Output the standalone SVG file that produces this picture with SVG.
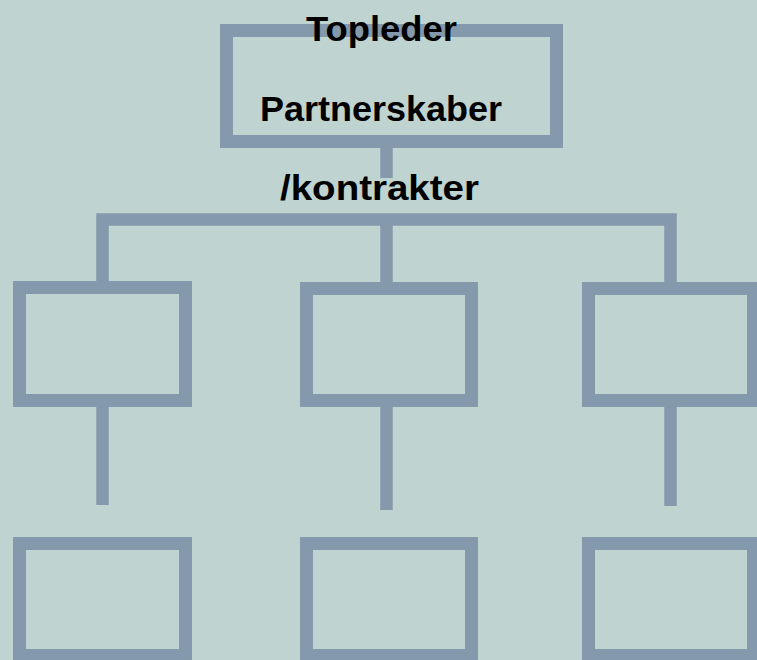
<svg xmlns="http://www.w3.org/2000/svg" width="757" height="660" viewBox="0 0 757 660">
  <style>
    .box { fill: none; stroke: #8499ab; stroke-width: 13; }
    .link { fill: none; stroke: #8499ab; stroke-width: 12.5; stroke-linecap: butt; stroke-linejoin: miter; }
    .label { font-family: "Liberation Sans", Arial, sans-serif; font-weight: bold; font-size: 35px; fill: #000; text-anchor: middle; }
  </style>
  <rect x="0" y="0" width="757" height="660" fill="#bfd3d1"/>

  <!-- connectors -->
  <g id="connectors">
    <line class="link" x1="386.5" y1="148" x2="386.5" y2="178"/>
    <polyline class="link" points="102.5,281 102.5,219.5 670.5,219.5 670.5,282"/>
    <line class="link" x1="386.5" y1="219.5" x2="386.5" y2="282"/>
    <line class="link" x1="102.5" y1="407" x2="102.5" y2="505"/>
    <line class="link" x1="386.5" y1="407" x2="386.5" y2="510"/>
    <line class="link" x1="670.5" y1="407" x2="670.5" y2="506"/>
  </g>

  <!-- top node -->
  <g id="node-top">
    <rect class="box" x="226.5" y="30.5" width="330" height="111"/>
  </g>

  <!-- middle row -->
  <g id="node-mid-left">
    <rect class="box" x="19.5" y="287.5" width="166" height="113"/>
  </g>
  <g id="node-mid-center">
    <rect class="box" x="306.5" y="288.5" width="165" height="112"/>
  </g>
  <g id="node-mid-right">
    <rect class="box" x="588.5" y="288.5" width="165" height="112"/>
  </g>

  <!-- bottom row -->
  <g id="node-bottom-left">
    <rect class="box" x="19.5" y="543.5" width="166" height="112"/>
  </g>
  <g id="node-bottom-center">
    <rect class="box" x="306.5" y="543.5" width="165" height="112"/>
  </g>
  <g id="node-bottom-right">
    <rect class="box" x="588.5" y="543.5" width="165" height="112"/>
  </g>

  <!-- labels -->
  <g id="labels">
    <text class="label" x="381.5" y="41" textLength="151" lengthAdjust="spacingAndGlyphs">Topleder</text>
    <text class="label" x="381" y="121" textLength="242" lengthAdjust="spacingAndGlyphs">Partnerskaber</text>
    <text class="label" x="379.5" y="200" textLength="199" lengthAdjust="spacingAndGlyphs">/kontrakter</text>
  </g>
</svg>
